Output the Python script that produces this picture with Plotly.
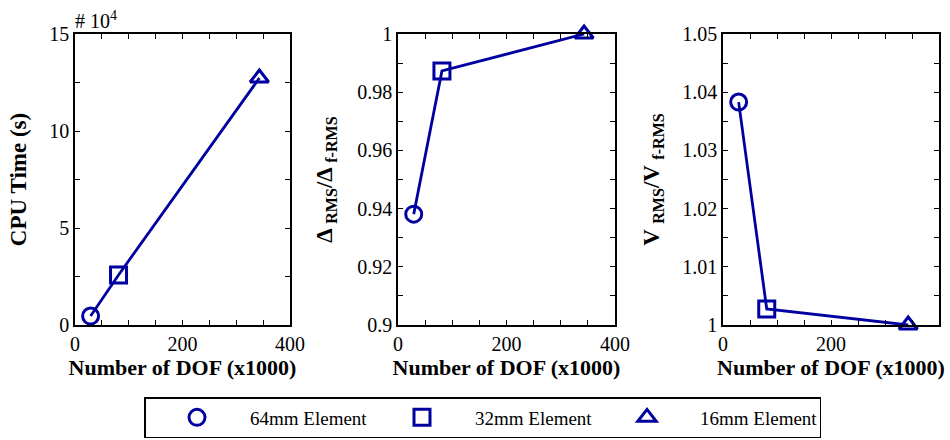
import plotly.graph_objects as go

# ---- data ----
elements = ["64mm Element", "32mm Element", "16mm Element"]
symbols = ["circle-open", "square-open", "triangle-up-open"]
dof_k = [29, 81, 343]                    # Number of DOF (x1000)
cpu_time_s = [4600, 25800, 127300]       # CPU time (s)
delta_ratio = [0.9381, 0.9873, 1.0]      # Δ_RMS / Δ_f-RMS
v_ratio = [1.0383, 1.00275, 1.0]         # V_RMS / V_f-RMS

x_ticks = [0, 50, 100, 150, 200, 250, 300, 350, 400]
x_ticktext = ["0", "", "", "", "200", "", "", "", "400"]
y1_ticks = [0, 2.5, 5, 7.5, 10, 12.5, 15]
y1_ticktext = ["0", "", "5", "", "10", "", "15"]
y2_ticks = [0.9, 0.91, 0.92, 0.93, 0.94, 0.95, 0.96, 0.97, 0.98, 0.99, 1.0]
y2_ticktext = ["0.9", "", "0.92", "", "0.94", "", "0.96", "", "0.98", "", "1"]
y3_ticks = [1.0, 1.005, 1.01, 1.015, 1.02, 1.025, 1.03, 1.035, 1.04, 1.045, 1.05]
y3_ticktext = ["1", "", "1.01", "", "1.02", "", "1.03", "", "1.04", "", "1.05"]

COLOR = "rgb(0,0,160)"
FONT = "Liberation Serif"
W, H = 950, 440

cpu_scaled = [v / 1e4 for v in cpu_time_s]
series = [
    (cpu_scaled, "x", "y"),
    (delta_ratio, "x2", "y2"),
    (v_ratio, "x3", "y3"),
]

fig = go.Figure()
for k, (yvals, xa, ya) in enumerate(series):
    fig.add_trace(go.Scatter(x=dof_k, y=yvals, xaxis=xa, yaxis=ya, mode="lines",
                             line=dict(color=COLOR, width=2.8), showlegend=False,
                             hoverinfo="skip", cliponaxis=False))
    for i in range(len(elements)):
        fig.add_trace(go.Scatter(
            x=[dof_k[i]], y=[yvals[i]], xaxis=xa, yaxis=ya, mode="markers",
            name=elements[i], legendgroup=elements[i], showlegend=(k == 0),
            cliponaxis=False,
            marker=dict(symbol=symbols[i], size=16, color=COLOR,
                        line=dict(width=3, color=COLOR))))

def px_x(a, b):
    return [a / W, b / W]

ydom = [1 - 325 / H, 1 - 34 / H]
xdoms = [px_x(75, 290), px_x(398, 615), px_x(723, 939)]
yranges = [[0, 15], [0.9, 1.0], [1.0, 1.05]]
yticks = [(y1_ticks, y1_ticktext), (y2_ticks, y2_ticktext), (y3_ticks, y3_ticktext)]
ytitles = ["<b>CPU Time (s)</b>",
           "<b>Δ <sub>RMS</sub>/Δ <sub>f-RMS</sub></b>",
           "<b>V <sub>RMS</sub>/V <sub>f-RMS</sub></b>"]
ystandoffs = [16, 18, 16]

axis_common = dict(showline=True, linecolor="black", linewidth=1.5, mirror="allticks",
                   ticks="inside", ticklen=5, tickwidth=1.2, tickcolor="black",
                   showgrid=False, zeroline=False, automargin=False,
                   tickfont=dict(family=FONT, size=20, color="black"))

layout = dict(width=W, height=H, margin=dict(l=0, r=0, t=0, b=0),
              plot_bgcolor="white", paper_bgcolor="white",
              font=dict(family=FONT, color="black"))
for k in range(3):
    sx = "" if k == 0 else str(k + 1)
    layout["xaxis" + sx] = dict(axis_common, domain=xdoms[k], range=[0, 400],
                                anchor="y" + sx, tickvals=x_ticks, ticktext=x_ticktext,
                                title=dict(text="<b>Number of DOF (x1000)</b>",
                                           font=dict(family=FONT, size=22), standoff=6))
    layout["yaxis" + sx] = dict(axis_common, domain=ydom, range=yranges[k],
                                anchor="x" + sx, tickvals=yticks[k][0], ticktext=yticks[k][1],
                                title=dict(text=ytitles[k],
                                           font=dict(family=FONT, size=23),
                                           standoff=ystandoffs[k]))

layout["legend"] = dict(orientation="h", x=144 / W, xanchor="left",
                        y=2 / H, yanchor="bottom",
                        bordercolor="black", borderwidth=1.5, bgcolor="white",
                        font=dict(family=FONT, size=19), entrywidth=114,
                        entrywidthmode="pixels", itemwidth=96)
layout["annotations"] = [dict(text="# 10<sup>4</sup>", xref="paper", yref="paper",
                              x=73 / W, y=1 - 34 / H, xanchor="left", yanchor="bottom",
                              showarrow=False, font=dict(family=FONT, size=20))]
fig.update_layout(**layout)
fig.write_html("out.html", config={"displayModeBar": False},
               post_script="document.body.style.margin='0';")
